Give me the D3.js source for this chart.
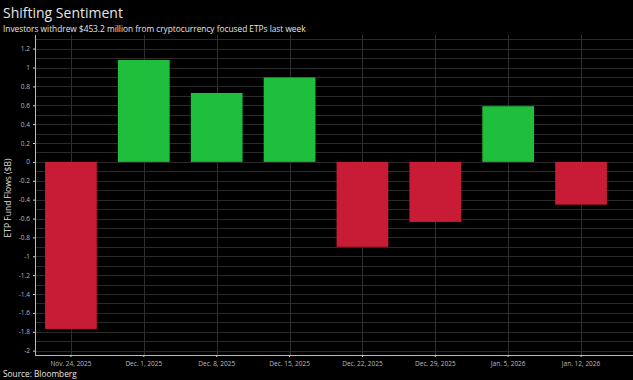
<!DOCTYPE html>
<html><head><meta charset="utf-8">
<script src="https://cdn.jsdelivr.net/npm/d3@7"></script>
<style>
html,body{margin:0;padding:0;background:#000;}
svg{display:block;}
</style></head>
<body>
<svg id="c" width="633" height="380"></svg>
<script>
const categories = ["Nov. 24, 2025","Dec. 1, 2025","Dec. 8, 2025","Dec. 15, 2025","Dec. 22, 2025","Dec. 29, 2025","Jan. 5, 2026","Jan. 12, 2026"];
const flows = [-1.77, 1.08, 0.73, 0.895, -0.90, -0.636, 0.59, -0.453];
const yTicks = [1.2,1,0.8,0.6,0.4,0.2,0,-0.2,-0.4,-0.6,-0.8,-1,-1.2,-1.4,-1.6,-1.8,-2];
const yGrid = d3.range(-20, 14).map(i => i / 10);
const title = "Shifting Sentiment";
const subtitle = "Investors withdrew $453.2 million from cryptocurrency focused ETPs last week";
const source = "Source: Bloomberg";
const yLabel = "ETP Fund Flows ($B)";

(function () {
const svg = d3.select("#c");
const W = 633, H = 380;
const pL = 35, pR = 633, pT = 35, pB = 355;
const font = "'Open Sans', 'Noto Sans', sans-serif";

svg.append("rect").attr("width", W).attr("height", H).attr("fill", "#000");

const x = d3.scaleBand().domain(categories).range([34.5, 617.5]).paddingInner(0.29).paddingOuter(0.145);
const y = d3.scaleLinear().domain([-2.046, 1.3445]).range([pB, pT]);

svg.append("g").selectAll("line").data(yGrid).join("line")
  .attr("x1", pL).attr("x2", pR)
  .attr("y1", d => Math.round(y(d)) + 0.5).attr("y2", d => Math.round(y(d)) + 0.5)
  .attr("stroke", "#2a2a2a").attr("stroke-width", 1);

svg.append("g").selectAll("line").data(categories).join("line")
  .attr("x1", d => Math.round(x(d) + x.bandwidth() / 2) + 0.5)
  .attr("x2", d => Math.round(x(d) + x.bandwidth() / 2) + 0.5)
  .attr("y1", pT).attr("y2", pB)
  .attr("stroke", "#2e2e2e").attr("stroke-width", 1);

svg.append("g").selectAll("rect").data(flows).join("rect")
  .attr("x", (d, i) => x(categories[i]))
  .attr("width", x.bandwidth())
  .attr("y", d => y(Math.max(0, d)))
  .attr("height", d => Math.abs(y(d) - y(0)))
  .attr("fill", d => d >= 0 ? "#1fbe3d" : "#c81b36");

const yAxis = svg.append("g").attr("transform", `translate(${pL},0)`)
  .call(d3.axisLeft(y).tickValues(yTicks).tickSize(2).tickPadding(3)
    .tickFormat(d => String(+d.toFixed(1))));
yAxis.select(".domain").attr("stroke", "#bbb").attr("d", `M0.5,${pT}V${pB}`);
yAxis.selectAll(".tick line").attr("stroke", "#ccc");
yAxis.selectAll(".tick text").attr("fill", "#bbb").style("font-family", font).style("font-size", "6.5px");

const xAxis = svg.append("g").attr("transform", `translate(0,${pB})`)
  .call(d3.axisBottom(x).tickSize(2).tickPadding(4));
xAxis.select(".domain").attr("stroke", "#bbb").attr("d", `M${pL},0.5H${pR}`);
xAxis.selectAll(".tick line").attr("stroke", "#ccc");
xAxis.selectAll(".tick text").attr("fill", "#bbb").style("font-family", font).style("font-size", "6.5px");

svg.append("text")
  .attr("transform", `translate(11,198) rotate(-90)`)
  .attr("text-anchor", "middle")
  .attr("fill", "#ddd").style("font-family", font).style("font-size", "8.5px")
  .text(yLabel);

svg.append("text").attr("x", 3).attr("y", 18)
  .attr("fill", "#e6e6e6").style("font-family", font).style("font-size", "14px")
  .text(title);
svg.append("text").attr("x", 3).attr("y", 32)
  .attr("fill", "#e6e6e6").style("font-family", font).style("font-size", "8.3px")
  .text(subtitle);
svg.append("text").attr("x", 3).attr("y", 377)
  .attr("fill", "#e6e6e6").style("font-family", font).style("font-size", "8.3px")
  .text(source);
})();
</script>
</body></html>
